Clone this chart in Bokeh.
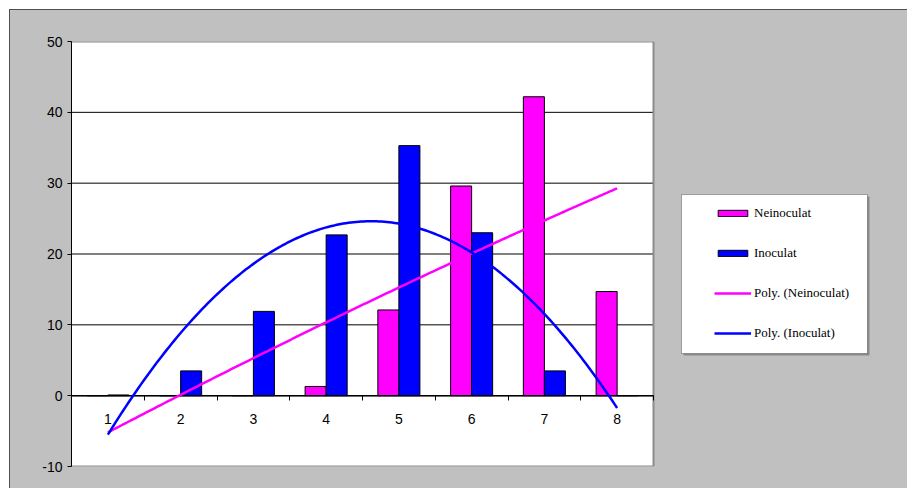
import numpy as np
from bokeh.plotting import figure
from bokeh.models import (FixedTicker, Legend, LegendItem, BoxAnnotation,
                          ColumnDataSource)
from bokeh.transform import dodge
from bokeh.embed import file_html
from bokeh.resources import INLINE

# Data
categories = [1, 2, 3, 4, 5, 6, 7, 8]
neinoculat = [0.0, 0.0, 0.0, 1.3, 12.1, 29.6, 42.2, 14.7]
inoculat = [0.1, 3.5, 11.9, 22.7, 35.3, 23.0, 3.5, 0.0]
y_ticks = [-10, 0, 10, 20, 30, 40, 50]

MAGENTA = "#FF00FF"
BLUE = "#0000FF"
GRAY = "#C0C0C0"
AXIS_FONT = "'Liberation Sans', sans-serif"
LEGEND_FONT = "'Liberation Serif', serif"

# Canvas geometry (pixels)
W, H = 898, 479
LEFT, TOP, BOTTOM = 61, 31, 23
PLOT_W = 582                      # width of the white plotting area
x0, x1 = 0.5, 8.5                 # category span of the plotting area
px_per_unit = PLOT_W / (x1 - x0)
x_end = x0 + (W - LEFT) / px_per_unit   # frame extends under the legend area
y0, y1 = -10, 50

src = ColumnDataSource(dict(x=categories, nei=neinoculat, ino=inoculat))

p = figure(width=W, height=H, output_backend="svg", toolbar_location=None,
           x_range=(x0, x_end), y_range=(y0, y1),
           min_border_left=LEFT, min_border_right=0,
           min_border_top=TOP, min_border_bottom=BOTTOM,
           background_fill_color=GRAY, border_fill_color=GRAY,
           outline_line_color=None)
p.margin = (9, 0, 0, 9)
p.styles = {"border-top": "1px solid #505050", "border-left": "1px solid #505050",
            "background-color": GRAY}

# White plotting area
p.quad(left=x0, right=x1, bottom=y0, top=y1, fill_color="white",
       line_color=None)
# Horizontal grid lines
p.segment(x0=x0, y0=y_ticks[1:-1], x1=x1, y1=y_ticks[1:-1],
          line_color="black", line_width=1)
# Border of the plotting area (top, right, bottom)
p.multi_line(xs=[[x0, x1], [x1, x1], [x0, x1]],
             ys=[[y1, y1], [y0, y1], [y0, y0]],
             line_color="#8C8C8C", line_width=2)

bw = 0.289
r_nei = p.vbar(x=dodge("x", -bw / 2, range=p.x_range), top="nei", width=bw,
               source=src, fill_color=MAGENTA, line_color="black", line_width=1)
r_ino = p.vbar(x=dodge("x", bw / 2, range=p.x_range), top="ino", width=bw,
               source=src, fill_color=BLUE, line_color="black", line_width=1)

# Category axis line at zero
p.segment(x0=x0, y0=0, x1=x1, y1=0, line_color="black", line_width=1.5)

# Second-order polynomial trendlines through each series
xs = np.linspace(categories[0], categories[-1], 200)
fit_nei = np.polyval(np.polyfit(categories, neinoculat, 2), xs)
fit_ino = np.polyval(np.polyfit(categories, inoculat, 2), xs)
r_tn = p.line(xs, fit_nei, line_color=MAGENTA, line_width=2.5)
r_ti = p.line(xs, fit_ino, line_color=BLUE, line_width=2.5)

# Axes
p.xgrid.visible = False
p.ygrid.visible = False

xa = p.xaxis[0]
xa.fixed_location = 0
xa.ticker = FixedTicker(ticks=categories,
                        minor_ticks=[c + 0.5 for c in categories])
xa.major_tick_out = 0
xa.major_tick_in = 0
xa.minor_tick_out = 5
xa.minor_tick_in = 0
xa.minor_tick_line_color = "black"
xa.axis_line_color = None
xa.major_label_standoff = 13

ya = p.yaxis[0]
ya.ticker = FixedTicker(ticks=y_ticks)
ya.major_tick_out = 4
ya.major_tick_in = 0
ya.minor_tick_line_color = None
ya.axis_line_color = "black"
ya.major_label_standoff = 5
ya.major_label_overrides = {t: str(t) for t in y_ticks}

for ax in (xa, ya):
    ax.major_label_text_font = AXIS_FONT
    ax.major_label_text_font_size = "14px"
    ax.major_label_text_color = "black"

# Legend box with shadow
shadow = BoxAnnotation(left=672, right=858, top=185, bottom=344,
                       left_units="canvas", right_units="canvas",
                       top_units="canvas", bottom_units="canvas",
                       fill_color="#8A8A8A", fill_alpha=1, line_color=None,
                       level="overlay")
box = BoxAnnotation(left=670, right=856, top=183, bottom=342,
                    left_units="canvas", right_units="canvas",
                    top_units="canvas", bottom_units="canvas",
                    fill_color="white", fill_alpha=1, line_color="black",
                    line_width=1, level="overlay")
p.add_layout(shadow)
p.add_layout(box)

legend = Legend(items=[LegendItem(label="Neinoculat", renderers=[r_nei]),
                       LegendItem(label="Inoculat", renderers=[r_ino]),
                       LegendItem(label="Poly. (Neinoculat)", renderers=[r_tn]),
                       LegendItem(label="Poly. (Inoculat)", renderers=[r_ti])],
                location=(643, 123), padding=0, spacing=20,
                glyph_width=37, glyph_height=8, label_height=20,
                label_standoff=3, background_fill_alpha=0,
                border_line_color=None,
                label_text_font=LEGEND_FONT, label_text_font_size="13px",
                label_text_color="black")
p.add_layout(legend)

open("out.html", "w").write(file_html(p, INLINE))
